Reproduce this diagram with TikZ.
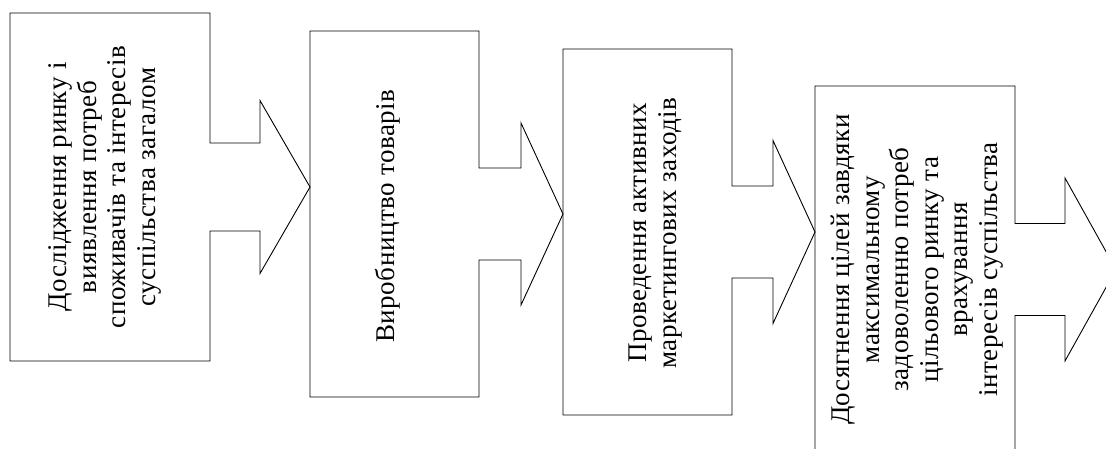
\documentclass[tikz,border=0pt]{standalone}
\usepackage{fontspec}
\newfontfamily\timesfont[LetterSpace=2]{Liberation Serif}
\begin{document}
\begin{tikzpicture}[x=1pt,y=-1pt,
  box/.style={rectangle,draw=none,inner sep=0pt,outer sep=0pt},
  lbl/.style={rotate=90,align=center,inner sep=0pt,font=\timesfont\fontsize{27}{29.5}\selectfont},
  outline/.style={draw=black,line width=0.9pt,line join=miter}]
\useasboundingbox (0,0) rectangle (1106,448);
\clip (0,0) rectangle (1106,448);
% boxes (positions in px, y downwards)
\node[box,minimum width=200pt,minimum height=348pt] (b1) at (110,187) {};
\node[box,minimum width=169pt,minimum height=366pt] (b2) at (394.5,214) {};
\node[box,minimum width=169pt,minimum height=366pt] (b3) at (647.5,232) {};
\node[box,minimum width=200pt,minimum height=367pt] (b4) at (915,269.5) {};
\coordinate (end4) at (1116,269.5);
% labels
\node[lbl] (t1) at ([shift={(-5,0)}]b1.center) {Дослідження ринку і\\виявлення потреб\\споживачів та інтересів\\суспільства загалом};
\node[lbl] (t2) at ([shift={(-7,2)}]b2.center) {Виробництво товарів};
\node[lbl] (t3) at ([shift={(8,1)}]b3.center) {Проведення активних\\маркетингових заходів};
\node[lbl] (t4) at ([shift={(2,0)}]b4.center) {Досягнення цілей завдяки\\максимальному\\задоволенню потреб\\цільового ринку та\\врахування\\інтересів суспільства};
% box outlines merged with block arrows to the next box
\draw[outline] (b1.south east) -- (b1.south west) -- (b1.north west) -- (b1.north east)
  -- ([shift={(0,-44)}]b1.east) -- ++(50,0) -- ++(0,-42.5)
  -- (b2.west |- b1.east) -- ([shift={(50,86.5)}]b1.east) -- ++(0,-42.5) -- ([shift={(0,44)}]b1.east) -- cycle;
\draw[outline] (b2.south east) -- (b2.south west) -- (b2.north west) -- (b2.north east)
  -- ([shift={(0,-46)}]b2.east) -- ++(42,0) -- ++(0,-45)
  -- (b3.west |- b2.east) -- ([shift={(42,91)}]b2.east) -- ++(0,-45) -- ([shift={(0,46)}]b2.east) -- cycle;
\draw[outline] (b3.south east) -- (b3.south west) -- (b3.north west) -- (b3.north east)
  -- ([shift={(0,-46)}]b3.east) -- ++(41,0) -- ++(0,-45.5)
  -- (b4.west |- b3.east) -- ([shift={(41,91.5)}]b3.east) -- ++(0,-45.5) -- ([shift={(0,46)}]b3.east) -- cycle;
\draw[outline] (b4.south east) -- (b4.south west) -- (b4.north west) -- (b4.north east)
  -- ([shift={(0,-46)}]b4.east) -- ++(50,0) -- ++(0,-45.5)
  -- (end4) -- ([shift={(50,91.5)}]b4.east) -- ++(0,-45.5) -- ([shift={(0,46)}]b4.east) -- cycle;
\end{tikzpicture}
\end{document}
